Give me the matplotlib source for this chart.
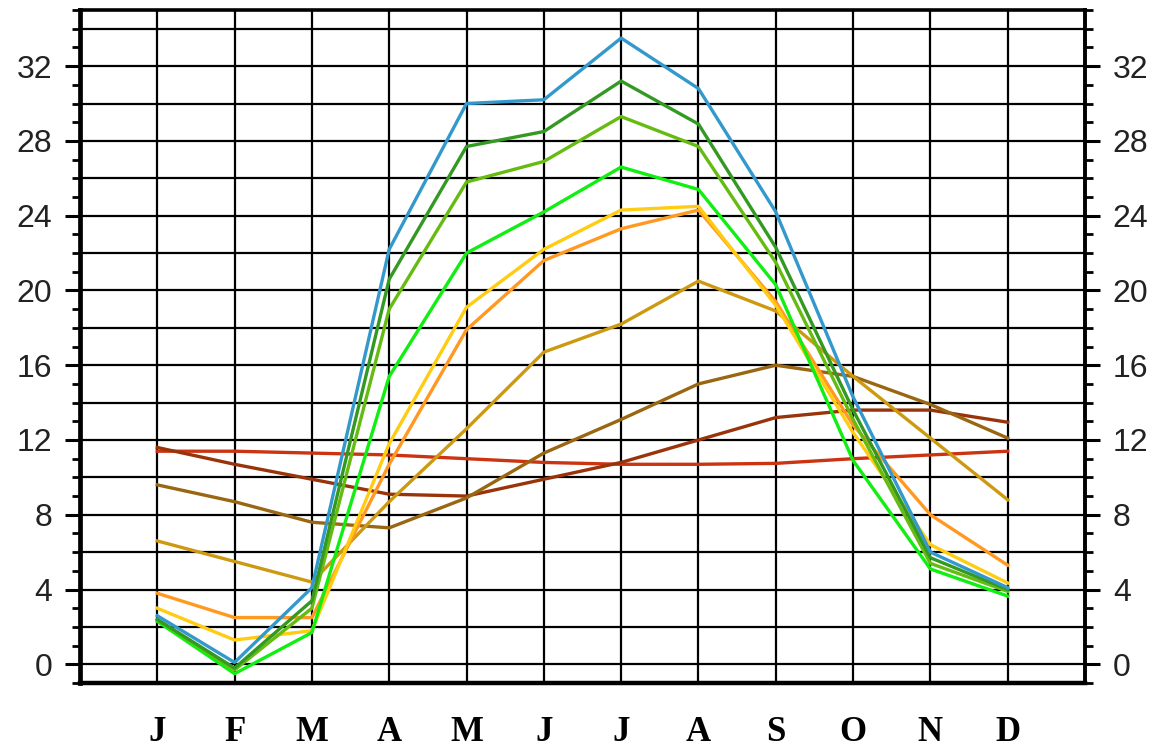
import numpy as np
import matplotlib
matplotlib.use("Agg")
import matplotlib.pyplot as plt
from matplotlib.ticker import MultipleLocator

# month labels and positions
months = ["J", "F", "M", "A", "M", "J", "J", "A", "S", "O", "N", "D"]
month_pos = list(range(1, 13))

# monthly temperature series
blue = [2.6, 0.1, 4.1, 22.2, 30.0, 30.2, 33.5, 30.8, 24.2, 14.3, 6.0, 4.1]
dark_green = [2.4, -0.2, 3.4, 20.6, 27.7, 28.5, 31.2, 28.9, 22.3, 13.6, 5.7, 4.0]
yellow_green = [2.4, -0.3, 3.0, 19.0, 25.8, 26.9, 29.3, 27.7, 21.5, 13.1, 5.4, 3.9]
light_green = [2.3, -0.5, 1.7, 15.4, 22.0, 24.2, 26.6, 25.4, 20.3, 10.9, 5.1, 3.65]
yellow = [3.0, 1.3, 1.8, 11.8, 19.1, 22.2, 24.3, 24.5, 19.2, 12.4, 6.4, 4.35]
orange = [3.8, 2.5, 2.5, 10.7, 17.9, 21.6, 23.3, 24.3, 19.4, 12.8, 8.0, 5.3]
goldenrod = [6.6, 5.5, 4.4, 8.7, 12.6, 16.7, 18.2, 20.5, 18.9, 15.4, 12.1, 8.8]
brown_olive = [9.6, 8.7, 7.6, 7.3, 8.9, 11.3, 13.1, 15.0, 16.0, 15.4, 13.9, 12.1]
dark_red = [11.6, 10.7, 9.9, 9.1, 9.0, 9.9, 10.8, 12.0, 13.2, 13.6, 13.6, 12.95]
red = [11.4, 11.4, 11.3, 11.2, 11.0, 10.8, 10.7, 10.7, 10.75, 11.0, 11.2, 11.4]

y_ticks = list(range(0, 33, 4))

series = [
    (red, "#cc3311"),
    (dark_red, "#99330a"),
    (brown_olive, "#996611"),
    (goldenrod, "#cc9911"),
    (orange, "#ff9922"),
    (yellow, "#ffcc11"),
    (light_green, "#11ee11"),
    (yellow_green, "#66bb11"),
    (dark_green, "#339922"),
    (blue, "#3399cc"),
]

fig = plt.figure(figsize=(11.57, 7.49), dpi=100)
ax = fig.add_axes([0.0691, 0.0881, 0.8687, 0.8985])

# grid
for yy in range(0, 35, 2):
    ax.axhline(yy, color="black", lw=1.6, zorder=1)
for xx in month_pos:
    ax.axvline(xx, color="black", lw=1.6, zorder=1)

for vals, col in series:
    ax.plot(month_pos, vals, color=col, lw=2.4, zorder=3)

ax.set_xlim(0, 13)
ax.set_ylim(-1, 35)

ax.set_xticks(month_pos)
ax.set_xticklabels(months, fontfamily="Liberation Serif", fontweight="bold",
                   fontsize=25)
ax.tick_params(axis="x", length=0, pad=24)

ax.set_yticks(y_ticks)
ax.yaxis.set_minor_locator(MultipleLocator(1))
ax.tick_params(axis="y", which="major", direction="out", length=11, width=2.2,
               left=True, right=True, labelleft=True, labelright=True,
               labelsize=23, pad=9, labelcolor="#222222")
ax.tick_params(axis="y", which="minor", direction="out", length=6, width=2.0,
               left=True, right=True)
for lab in ax.get_yticklabels():
    lab.set_fontfamily("Liberation Sans")

for side, w in [("left", 3.4), ("bottom", 3.2), ("top", 2.6), ("right", 2.8)]:
    ax.spines[side].set_linewidth(w)
    ax.spines[side].set_color("black")

fig.savefig("out.png", dpi=100)
